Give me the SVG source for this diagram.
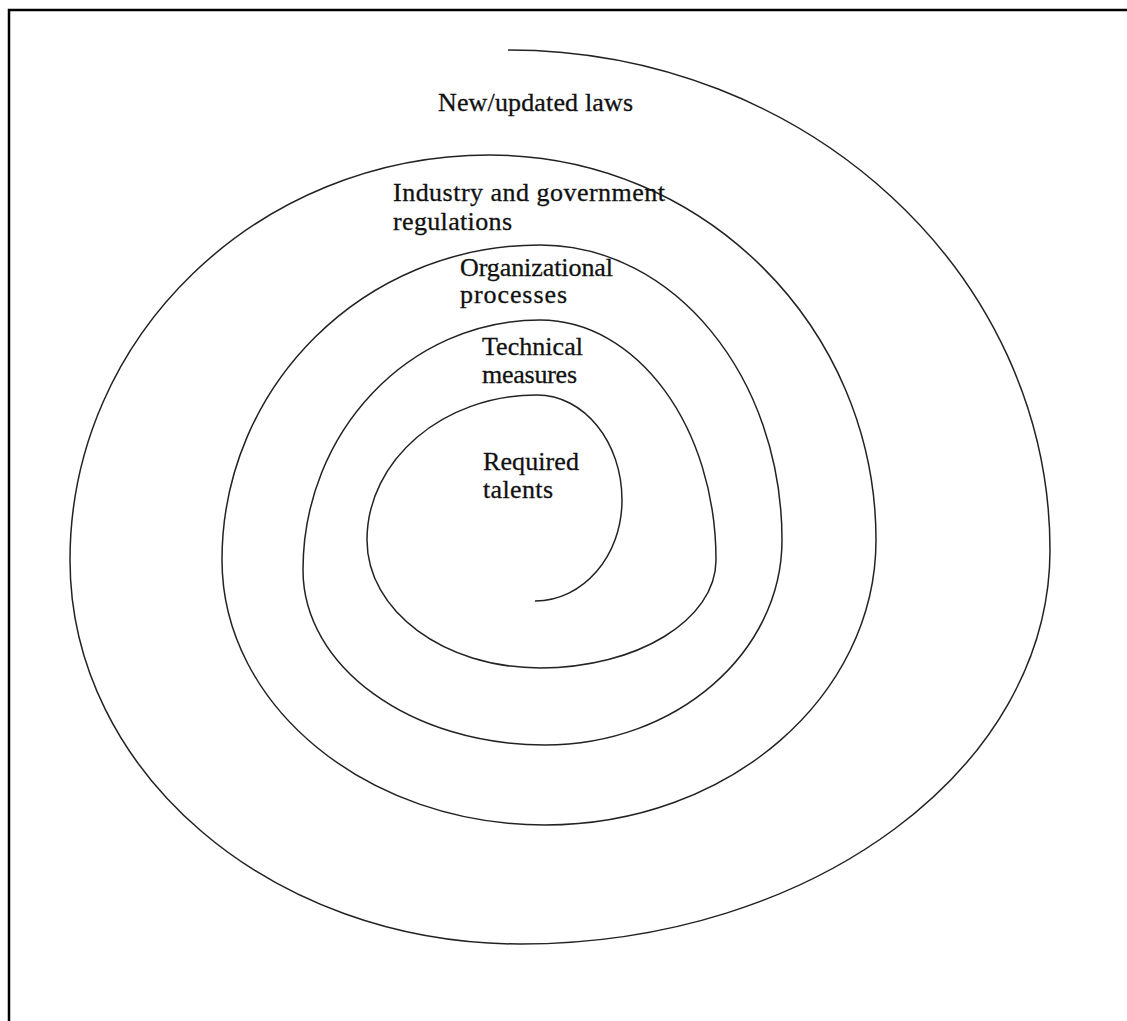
<svg xmlns="http://www.w3.org/2000/svg" width="1127" height="1021" viewBox="0 0 1127 1021">
  <style>
    .frame { fill: none; stroke: #000; stroke-width: 2.5; }
    .spiral { fill: none; stroke: #222; stroke-width: 1.5; stroke-linecap: butt; }
    .label { font-family: "Liberation Serif", "Times New Roman", serif; font-size: 26px; fill: #111; stroke: #111; stroke-width: 0.3; }
  </style>
  <rect width="1127" height="1021" fill="#fff"/>
  <!-- page frame: top and left edges only -->
  <path class="frame" d="M9,1021 V10 H1127"/>

  <g id="connectors">
    <!-- one continuous clockwise spiral, outermost turn first -->
    <path id="spiral" class="spiral" d="M508,50
      C807,50 1050,274 1050,550
      C1050,768 813,944 520,944
      C271,944 70,772 70,560
      C70,336 258,155 490,155
      C703,155 876,327 876,540
      C876,697 728,825 545,825
      C367,825 222,706 222,560
      C222,386 364,245 540,245
      C674,245 782,377 782,540
      C782,653 676,745 545,745
      C411,745 303,667 303,570
      C303,432 409,320 540,320
      C637,320 716,427 716,560
      C716,620 637,668 540,668
      C444,668 367,611 367,540
      C367,460 443,395 537,395
      C584,395 622,442 622,500
      C622,556 583,601 535,601"/>
  </g>

  <g id="ring-laws">
    <text class="label" x="438" y="111" textLength="195" lengthAdjust="spacing">New/updated laws</text>
  </g>
  <g id="ring-regulations">
    <text class="label" x="393" y="201" textLength="272" lengthAdjust="spacing">Industry and government</text>
    <text class="label" x="393" y="230" textLength="119" lengthAdjust="spacing">regulations</text>
  </g>
  <g id="ring-processes">
    <text class="label" x="460" y="276" textLength="153" lengthAdjust="spacing">Organizational</text>
    <text class="label" x="460" y="303" textLength="107" lengthAdjust="spacing">processes</text>
  </g>
  <g id="ring-technical">
    <text class="label" x="482" y="355" textLength="101" lengthAdjust="spacing">Technical</text>
    <text class="label" x="482" y="383" textLength="95" lengthAdjust="spacing">measures</text>
  </g>
  <g id="ring-talents">
    <text class="label" x="483" y="470" textLength="96" lengthAdjust="spacing">Required</text>
    <text class="label" x="483" y="498" textLength="70" lengthAdjust="spacing">talents</text>
  </g>
</svg>
